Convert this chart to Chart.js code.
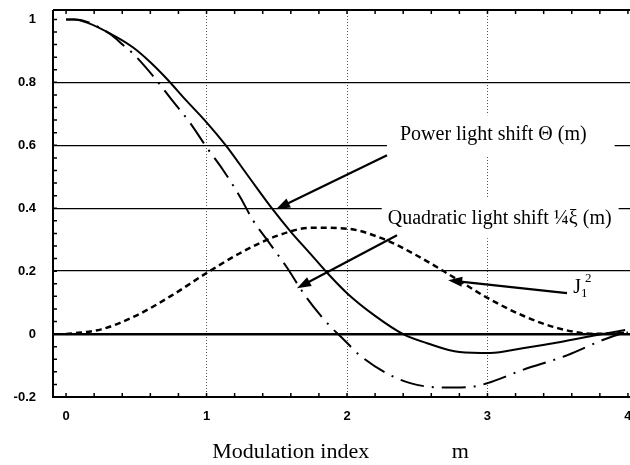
<!DOCTYPE html>
<html>
<head>
<meta charset="utf-8">
<script src="https://cdn.jsdelivr.net/npm/chart.js@4"></script>
<style>
  html, body { margin: 0; padding: 0; overflow: hidden; background: #fff; }
  #wrap { width: 650px; height: 465px; }
</style>
</head>
<body>
<div id="wrap"><canvas id="myChart" width="650" height="465"></canvas></div>
<script>
// values
const mPower = [0, 0.06, 0.15, 0.36, 0.48, 0.6, 0.72, 0.85, 1.0, 1.14, 1.3, 1.47, 1.6, 1.74, 1.86, 2.0, 2.2, 2.4, 2.57, 2.8, 3.02, 3.25, 3.52, 3.78, 3.98];
const powerShift = [1.0, 1.0, 0.99, 0.944, 0.91, 0.864, 0.81, 0.745, 0.673, 0.598, 0.5, 0.397, 0.325, 0.255, 0.194, 0.13, 0.058, 0.0, -0.029, -0.057, -0.06, -0.045, -0.025, -0.003, 0.013];

const mQuad = [0, 0.06, 0.31, 0.41, 0.48, 0.62, 0.76, 0.88, 1.0, 1.12, 1.24, 1.33, 1.43, 1.57, 1.69, 1.81, 1.89, 1.96, 2.09, 2.28, 2.45, 2.68, 2.88, 3.0, 3.25, 3.57, 3.82, 3.98];
const quadShift = [1.0, 1.0, 0.955, 0.917, 0.89, 0.82, 0.74, 0.673, 0.594, 0.52, 0.435, 0.362, 0.3, 0.213, 0.13, 0.06, 0.02, -0.01, -0.067, -0.124, -0.156, -0.17, -0.168, -0.156, -0.114, -0.067, -0.019, 0.006];

const mJ = [0, 0.25, 0.5, 0.75, 1.0, 1.25, 1.5, 1.75, 2.0, 2.25, 2.5, 2.75, 3.0, 3.25, 3.5, 3.75, 4.0];
const j1Squared = [0, 0.015, 0.059, 0.122, 0.194, 0.26, 0.312, 0.338, 0.335, 0.304, 0.249, 0.183, 0.115, 0.059, 0.019, 0.001, 0.004];

const xTicks = [0, 1, 2, 3, 4];
const yTicks = [-0.2, 0, 0.2, 0.4, 0.6, 0.8, 1];
const xTitle = 'Modulation index               m    ';

const pts = (xs, ys) => xs.map((v, i) => ({ x: v, y: ys[i] }));

// text labels and arrows, placed in data units
const notes = [
    { text: 'Power light shift \u0398 (m)', x: 2.377, y: 0.632, padL: 13, padR: 28 },
    { text: 'Quadratic light shift \u00BC\u03BE (m)', x: 2.29, y: 0.368, padL: 6, padR: 7 }
];
const arrows = [
    { from: [2.285, 0.568], to: [1.495, 0.397] },
    { from: [2.356, 0.314], to: [1.644, 0.146] },
    { from: [3.566, 0.130], to: [2.72, 0.171] }
];
const noteFont = '20px "Liberation Serif"';

const notesPlugin = {
    id: 'notes',
    beforeDatasetsDraw(chart) {
        const { ctx, scales: { x, y } } = chart;
        ctx.save();
        ctx.font = noteFont;
        notes.forEach(n => {
            const w = ctx.measureText(n.text).width;
            const px = x.getPixelForValue(n.x), py = y.getPixelForValue(n.y);
            ctx.fillStyle = '#fff';
            ctx.fillRect(px - n.padL, py - 20, w + n.padL + n.padR, 40);
        });
        ctx.restore();
    },
    afterDatasetsDraw(chart) {
        const { ctx, scales: { x, y } } = chart;
        ctx.save();
        ctx.fillStyle = '#000';
        ctx.strokeStyle = '#000';
        ctx.font = noteFont;
        ctx.textBaseline = 'middle';
        notes.forEach(n => {
            ctx.fillText(n.text, x.getPixelForValue(n.x), y.getPixelForValue(n.y));
        });

        // J1^2
        const jx = x.getPixelForValue(3.61), jy = y.getPixelForValue(0.147);
        ctx.font = '20px "Liberation Serif"';
        ctx.fillText('J', jx, jy);
        const jw = ctx.measureText('J').width;
        ctx.font = '13px "Liberation Serif"';
        ctx.fillText('1', jx + jw, jy + 6);
        ctx.fillText('2', jx + jw + 4, jy - 9);

        arrows.forEach(a => {
            const x0 = x.getPixelForValue(a.from[0]), y0 = y.getPixelForValue(a.from[1]);
            const x1 = x.getPixelForValue(a.to[0]), y1 = y.getPixelForValue(a.to[1]);
            const ang = Math.atan2(y1 - y0, x1 - x0);
            const c = Math.cos(ang), s = Math.sin(ang);
            ctx.lineWidth = 2.2;
            ctx.beginPath();
            ctx.moveTo(x0, y0);
            ctx.lineTo(x1 - 10 * c, y1 - 10 * s);
            ctx.stroke();
            ctx.beginPath();
            ctx.moveTo(x1, y1);
            ctx.lineTo(x1 - 14 * c + 5 * s, y1 - 14 * s - 5 * c);
            ctx.lineTo(x1 - 14 * c - 5 * s, y1 - 14 * s + 5 * c);
            ctx.closePath();
            ctx.fill();
        });
        ctx.restore();
    },
    afterDraw(chart) {
        const { ctx, chartArea: a, scales: { x, y } } = chart;
        ctx.save();
        ctx.strokeStyle = '#000';
        ctx.lineWidth = 2;
        ctx.beginPath();
        ctx.moveTo(a.left, a.top);
        ctx.lineTo(a.right, a.top);
        ctx.moveTo(a.left, a.top);
        ctx.lineTo(a.left, a.bottom);
        ctx.lineTo(a.right, a.bottom);
        ctx.stroke();
        // small inward ticks
        ctx.lineWidth = 1.5;
        ctx.beginPath();
        for (let v = -0.2; v <= 1.03; v += 0.04) {
            const py = y.getPixelForValue(v);
            ctx.moveTo(a.left, py);
            ctx.lineTo(a.left + 4, py);
        }
        for (let v = 0; v <= 4.2; v += 0.2) {
            const px = x.getPixelForValue(v);
            ctx.moveTo(px, a.bottom);
            ctx.lineTo(px, a.bottom - 4);
            ctx.moveTo(px, a.top);
            ctx.lineTo(px, a.top + 4);
        }
        ctx.stroke();
        ctx.restore();
    }
};

const tickFont = { family: '"Liberation Sans", Arial, sans-serif', weight: 'bold', size: 13 };

const myChart = new Chart(document.getElementById('myChart'), {
    type: 'line',
    data: {
        datasets: [{
            label: 'Power light shift',
            data: pts(mPower, powerShift),
            borderColor: '#000',
            borderWidth: 2,
            pointRadius: 0,
            cubicInterpolationMode: 'monotone'
        }, {
            label: 'Quadratic light shift',
            data: pts(mQuad, quadShift),
            borderColor: '#000',
            borderWidth: 2,
            borderDash: [24, 8, 2, 8],
            pointRadius: 0,
            cubicInterpolationMode: 'monotone'
        }, {
            label: 'J1^2',
            data: pts(mJ, j1Squared),
            borderColor: '#000',
            borderWidth: 2.5,
            borderDash: [6, 4],
            pointRadius: 0,
            cubicInterpolationMode: 'monotone'
        }]
    },
    options: {
        responsive: false,
        animation: false,
        layout: { padding: { top: 10, left: 0, right: 0, bottom: 0 } },
        plugins: { legend: { display: false }, tooltip: { enabled: false } },
        scales: {
            x: {
                type: 'linear',
                min: -0.093,
                max: 4.157,
                afterBuildTicks: s => { s.ticks = xTicks.map(v => ({ value: v })); },
                afterFit: s => { s.height = 68; s.paddingLeft = 0; s.paddingRight = 0; },
                grid: {
                    color: c => (c.tick && c.tick.value > 0 && c.tick.value < 4) ? '#555' : 'rgba(0,0,0,0)',
                    lineWidth: 1,
                    drawTicks: false
                },
                border: { display: false, dash: [1, 2] },
                ticks: { padding: 12, maxRotation: 0, color: '#000', font: tickFont },
                title: {
                    display: true,
                    text: xTitle,
                    color: '#000',
                    font: { family: '"Liberation Serif", serif', size: 22 },
                    padding: { top: 2, bottom: 0 }
                }
            },
            y: {
                type: 'linear',
                min: -0.2,
                max: 1.03,
                afterBuildTicks: s => { s.ticks = yTicks.map(v => ({ value: v })); },
                afterFit: s => { s.width = 53; s.paddingTop = 0; s.paddingBottom = 0; },
                grid: {
                    color: c => (c.tick && (c.tick.value === 1 || c.tick.value === -0.2)) ? 'rgba(0,0,0,0)' : '#000',
                    lineWidth: c => (c.tick && c.tick.value === 0) ? 2.5 : 1.3,
                    drawTicks: false
                },
                border: { display: false },
                ticks: { padding: 17, color: '#000', font: tickFont, callback: v => String(v) }
            }
        }
    },
    plugins: [notesPlugin]
});
</script>
</body>
</html>
